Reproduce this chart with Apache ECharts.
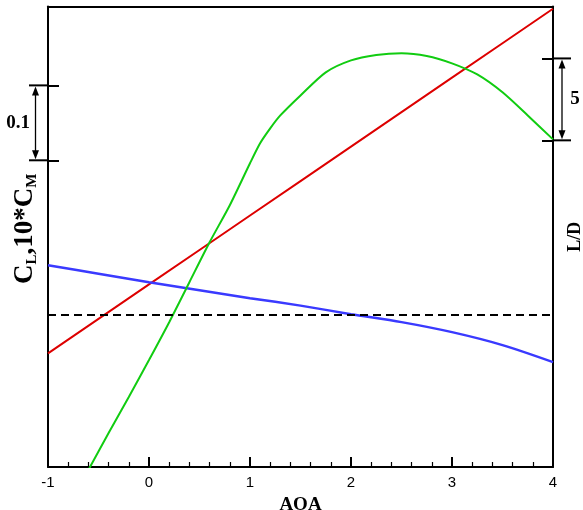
<!DOCTYPE html>
<html><head><meta charset="utf-8">
<script src="https://cdn.jsdelivr.net/npm/echarts@6/dist/echarts.min.js"></script>
<style>html,body{margin:0;padding:0;background:#fff}#c{width:583px;height:510px}</style>
</head><body><div id="c"></div>
<script>
// ---- data ----
const aoaCL = [-1, -0.5, 0, 0.5, 1, 1.5, 2, 2.5, 3, 3.5, 4];
const clValues = [-0.051, -0.005, 0.041, 0.087, 0.133, 0.179, 0.225, 0.271, 0.317, 0.363, 0.409];
const cm10Values = [0.0667, 0.0553, 0.044, 0.0333, 0.0227, 0.0127, 0.0013, -0.0093, -0.0227, -0.04, -0.0627];
const aoaLD = [-0.6, -0.4, -0.2, 0, 0.2, 0.4, 0.6, 0.8, 1.0, 1.1, 1.2, 1.3, 1.5, 1.75, 2.0, 2.25, 2.5, 2.75, 3.0, 3.25, 3.5, 3.75, 4.0];
const ldValues = [-0.12, 2.13, 4.33, 6.59, 8.90, 11.34, 13.78, 16.04, 18.60, 19.82, 20.73, 21.52, 22.74, 24.15, 24.88, 25.21, 25.32, 25.15, 24.70, 24.02, 22.93, 21.52, 20.06];
const xTicks = [-1, 0, 1, 2, 3, 4];
const xMinorPerMajor = 5;
const clScaleTicks = [0.2067, 0.3067];   // scale bar: 0.1
const ldScaleTicks = [20, 25];           // scale bar: 5
const clScaleText = '0.1';
const ldScaleText = '5';

const GRID = {left: 48, right: 30, top: 6.5, bottom: 43};
const CL_MIN = -0.2027, CL_MAX = 0.412;
const chart = echarts.init(document.getElementById('c'), null, {renderer: 'canvas'});
const zip = (xs, ys) => xs.map((x, i) => [x, ys[i]]);
const serif = 'Liberation Serif';
const blackLine = {color: '#000', width: 2};

// inward x ticks as markLine segments in data space (major and minor)
const perPx = (CL_MAX - CL_MIN) / (510 - GRID.top - GRID.bottom);
const tickMarks = [];
for (let i = 0; i < xTicks.length; i++) {
  tickMarks.push([{coord: [xTicks[i], CL_MIN], lineStyle: {width: 2, type: 'solid', color: '#000'}},
                  {coord: [xTicks[i], CL_MIN + 10 * perPx]}]);
  if (i < xTicks.length - 1) {
    const step = (xTicks[i + 1] - xTicks[i]) / xMinorPerMajor;
    for (let k = 1; k < xMinorPerMajor; k++) {
      tickMarks.push([{coord: [xTicks[i] + k * step, CL_MIN], lineStyle: {width: 1.2, type: 'solid', color: '#000'}},
                      {coord: [xTicks[i] + k * step, CL_MIN + 5 * perPx]}]);
    }
  }
}

chart.setOption({
  animation: false,
  backgroundColor: '#fff',
  grid: Object.assign({show: false, containLabel: false, outerBoundsMode: 'none'}, GRID),
  xAxis: [{
    type: 'value', position: 'bottom', min: xTicks[0], max: xTicks[xTicks.length - 1], interval: 1,
    axisLine: {show: true, onZero: false, lineStyle: blackLine},
    axisTick: {show: true, inside: true, length: 10, lineStyle: blackLine},
    minorTick: {show: true, splitNumber: xMinorPerMajor, length: 5, lineStyle: {color: '#000', width: 1}},
    splitLine: {show: false},
    axisLabel: {show: true, color: '#000', fontSize: 15, fontFamily: 'Liberation Sans', margin: 8},
    name: 'AOA', nameLocation: 'middle', nameGap: 29,
    nameTextStyle: {color: '#000', fontSize: 19, fontWeight: 'bold', fontFamily: serif}
  }, {
    type: 'value', position: 'top', min: xTicks[0], max: xTicks[xTicks.length - 1], interval: 1,
    axisLine: {show: true, onZero: false, lineStyle: blackLine},
    axisTick: {show: false}, axisLabel: {show: false}, splitLine: {show: false}
  }],
  yAxis: [{
    type: 'value', position: 'left', min: CL_MIN, max: CL_MAX,
    axisLine: {show: true, onZero: false, lineStyle: blackLine},
    axisTick: {show: true, inside: true, length: 11, customValues: clScaleTicks, lineStyle: blackLine},
    axisLabel: {show: false}, splitLine: {show: false},
    name: '{b|C}{s|L}{b|,10*C}{s|M}', nameLocation: 'middle', nameGap: 8, nameRotate: 90,
    nameTextStyle: {
      padding: [0, 0, 0, 16],
      rich: {
        b: {fontSize: 27, fontWeight: 'bold', fontFamily: serif, color: '#000', lineHeight: 29},
        s: {fontSize: 15, fontWeight: 'bold', fontFamily: serif, color: '#000', verticalAlign: 'bottom', lineHeight: 29}
      }
    }
  }, {
    type: 'value', position: 'right', min: 0.06, max: 28.17,
    axisLine: {show: true, onZero: false, lineStyle: blackLine},
    axisTick: {show: true, inside: true, length: 11, customValues: ldScaleTicks, lineStyle: blackLine},
    axisLabel: {show: false}, splitLine: {show: false},
    name: 'L/D', nameLocation: 'middle', nameGap: 13, nameRotate: 90,
    nameTextStyle: {color: '#000', fontSize: 18, fontWeight: 'bold', fontFamily: serif}
  }],
  series: [{
    name: 'CL', type: 'line', xAxisIndex: 0, yAxisIndex: 0, data: zip(aoaCL, clValues), showSymbol: false,
    lineStyle: {color: '#dd0000', width: 2}, z: 3,
    markLine: {silent: true, symbol: 'none', label: {show: false},
      lineStyle: {color: '#000', type: [8, 5], width: 2}, data: [{yAxis: 0}]}
  }, {
    name: '10*CM', type: 'line', xAxisIndex: 0, yAxisIndex: 0, data: zip(aoaCL, cm10Values), showSymbol: false, smooth: 0.3,
    lineStyle: {color: '#3a3aff', width: 2.5}, z: 3,
    markLine: {silent: true, symbol: 'none', label: {show: false}, animation: false, data: tickMarks}
  }, {
    name: 'L/D', type: 'line', xAxisIndex: 0, yAxisIndex: 1, data: zip(aoaLD, ldValues), showSymbol: false,
    smooth: 0.25,
    lineStyle: {color: '#11cc11', width: 2}, z: 3
  }]
});

// scale bars positioned through the library's scales
const xL = chart.convertToPixel({xAxisIndex: 0}, xTicks[0]);
const xR = chart.convertToPixel({xAxisIndex: 0}, xTicks[xTicks.length - 1]);
const lyA = chart.convertToPixel({yAxisIndex: 0}, clScaleTicks[1]);
const lyB = chart.convertToPixel({yAxisIndex: 0}, clScaleTicks[0]);
const ryA = chart.convertToPixel({yAxisIndex: 1}, ldScaleTicks[1]);
const ryB = chart.convertToPixel({yAxisIndex: 1}, ldScaleTicks[0]);

function scaleBar(x0, x1, xa, yA, yB, txt, tx) {
  const st = {stroke: '#000', lineWidth: 2};
  const ah = 9, aw = 3.5;
  return [
    {type: 'line', z: 100, shape: {x1: x0, y1: yA, x2: x1, y2: yA}, style: st, silent: true},
    {type: 'line', z: 100, shape: {x1: x0, y1: yB, x2: x1, y2: yB}, style: st, silent: true},
    {type: 'line', z: 100, shape: {x1: xa, y1: yA + ah - 1, x2: xa, y2: yB - ah + 1}, style: {stroke: '#000', lineWidth: 1.3}, silent: true},
    {type: 'polygon', z: 100, shape: {points: [[xa, yA + 1], [xa - aw, yA + ah + 1], [xa + aw, yA + ah + 1]]}, style: {fill: '#000'}, silent: true},
    {type: 'polygon', z: 100, shape: {points: [[xa, yB - 1], [xa - aw, yB - ah - 1], [xa + aw, yB - ah - 1]]}, style: {fill: '#000'}, silent: true},
    {type: 'text', z: 100, x: tx, y: (yA + yB) / 2, style: {text: txt, fill: '#000', font: 'bold 19px "Liberation Serif"', align: 'center', verticalAlign: 'middle'}, silent: true}
  ];
}
chart.setOption({
  graphic: [].concat(
    scaleBar(xL - 19, xL, xL - 12.5, lyA, lyB, clScaleText, xL - 30),
    scaleBar(xR, xR + 18, xR + 9, ryA, ryB, ldScaleText, xR + 22)
  )
});
</script></body></html>
